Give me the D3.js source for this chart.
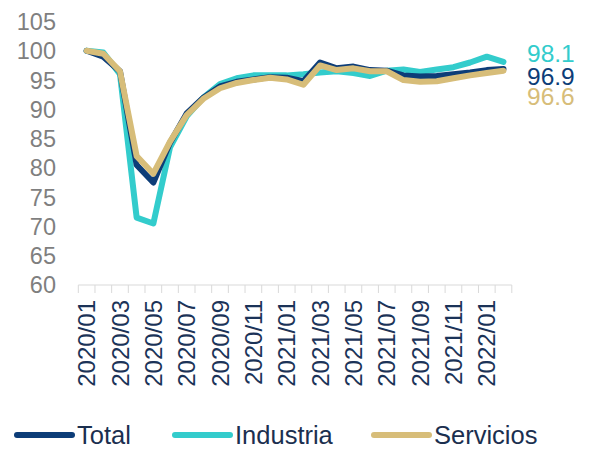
<!DOCTYPE html>
<meta charset="utf-8">
<style>
    body { margin: 0; background: #fff; }
    text { font-family: "Liberation Sans", Arial, sans-serif; }
</style>
<script src="https://d3js.org/d3.v7.min.js"></script>
<body>
<script>
    var months = ["2020/01","2020/02","2020/03","2020/04","2020/05","2020/06","2020/07","2020/08","2020/09","2020/10","2020/11","2020/12",
                  "2021/01","2021/02","2021/03","2021/04","2021/05","2021/06","2021/07","2021/08","2021/09","2021/10","2021/11","2021/12",
                  "2022/01","2022/02"];
    var total     = [100, 99.0, 96.5, 80.5, 77.5, 84.3, 89.3, 92.0, 93.9, 94.7, 95.1, 95.5, 95.4, 94.8, 98.0, 97.0, 97.3, 96.7, 96.6, 95.8, 95.6, 95.7, 96.0, 96.3, 96.7, 96.9];
    var industria = [100, 99.7, 96.0, 71.5, 70.5, 83.5, 88.8, 92.0, 94.3, 95.3, 95.8, 95.8, 95.8, 96.0, 96.3, 96.5, 96.2, 95.7, 96.6, 96.8, 96.4, 96.8, 97.2, 98.0, 99.0, 98.1];
    var servicios = [100, 99.5, 96.5, 82.0, 79.0, 84.5, 89.0, 91.8, 93.6, 94.5, 95.0, 95.4, 95.1, 94.2, 97.5, 96.7, 97.0, 96.5, 96.5, 95.0, 94.7, 94.8, 95.3, 95.8, 96.2, 96.6];
    var yTicks = [60, 65, 70, 75, 80, 85, 90, 95, 100, 105];

    var series = [
        {name: "Industria", values: industria, color: "#33cccc"},
        {name: "Total", values: total, color: "#0d3d78"},
        {name: "Servicios", values: servicios, color: "#d7bd79"}
    ];
    var legendOrder = ["Total", "Industria", "Servicios"];

    var width = 594, height = 450;

    var svg = d3.select("body").append("svg")
        .attr("width", width)
        .attr("height", height);

    var x = d3.scaleBand().domain(months).range([78.3, 511.8]);
    var y = d3.scaleLinear().domain([60, 105]).range([285, 21.5]);

    // y labels (no axis line)
    svg.append("g").selectAll("text")
        .data(yTicks)
        .enter().append("text")
        .attr("x", 56)
        .attr("y", function(d) { return y(d); })
        .attr("dy", "0.36em")
        .attr("text-anchor", "end")
        .attr("font-size", 23.5)
        .attr("fill", "#7f7f7f")
        .text(function(d) { return d; });

    // x axis
    var xAxis = svg.append("g").attr("transform", "translate(0," + y(60) + ")");
    xAxis.append("line")
        .attr("x1", x.range()[0]).attr("x2", x.range()[1])
        .attr("stroke", "#d9d9d9").attr("stroke-width", 1);
    var bounds = months.map(function(m) { return x(m); }).concat([x.range()[1]]);
    xAxis.selectAll("line.tick")
        .data(bounds)
        .enter().append("line")
        .attr("class", "tick")
        .attr("x1", function(d) { return d; }).attr("x2", function(d) { return d; })
        .attr("y1", 0).attr("y2", 8)
        .attr("stroke", "#d9d9d9").attr("stroke-width", 1);
    xAxis.selectAll("text")
        .data(months.filter(function(m, i) { return i % 2 === 0; }))
        .enter().append("text")
        .attr("transform", function(d) { return "translate(" + (x(d) + x.bandwidth() / 2) + ",15) rotate(-90)"; })
        .attr("dy", "0.36em")
        .attr("text-anchor", "end")
        .attr("font-size", 24)
        .attr("fill", "#1b3358")
        .text(function(d) { return d; });

    var line = d3.line()
        .x(function(d, i) { return x(months[i]) + x.bandwidth() / 2; })
        .y(function(d) { return y(d); });

    svg.append("g").selectAll("path")
        .data(series)
        .enter().append("path")
        .attr("d", function(s) { return line(s.values); })
        .attr("fill", "none")
        .attr("stroke", function(s) { return s.color; })
        .attr("stroke-width", 6)
        .attr("stroke-linejoin", "round")
        .attr("stroke-linecap", "round");

    // end value labels
    var endLabels = [
        {text: "98.1", color: "#33cccc", y: 61.5},
        {text: "96.9", color: "#0d3d78", y: 84.5},
        {text: "96.6", color: "#d7bd79", y: 105}
    ];
    svg.append("g").selectAll("text")
        .data(endLabels)
        .enter().append("text")
        .attr("x", 527)
        .attr("y", function(d) { return d.y; })
        .attr("font-size", 24.5)
        .attr("fill", function(d) { return d.color; })
        .text(function(d) { return d.text; });

    // legend
    var legendX = [17, 175, 374];
    var legend = svg.append("g").selectAll("g")
        .data(legendOrder)
        .enter().append("g")
        .attr("transform", function(d, i) { return "translate(" + legendX[i] + ",435)"; });
    legend.append("line")
        .attr("x1", 0).attr("x2", 55)
        .attr("stroke", function(d) { return series.find(function(s) { return s.name === d; }).color; })
        .attr("stroke-width", 6)
        .attr("stroke-linecap", "round");
    legend.append("text")
        .attr("x", 60)
        .attr("dy", "0.36em")
        .attr("font-size", 25.5)
        .attr("fill", "#1b2f4f")
        .text(function(d) { return d; });
</script>
